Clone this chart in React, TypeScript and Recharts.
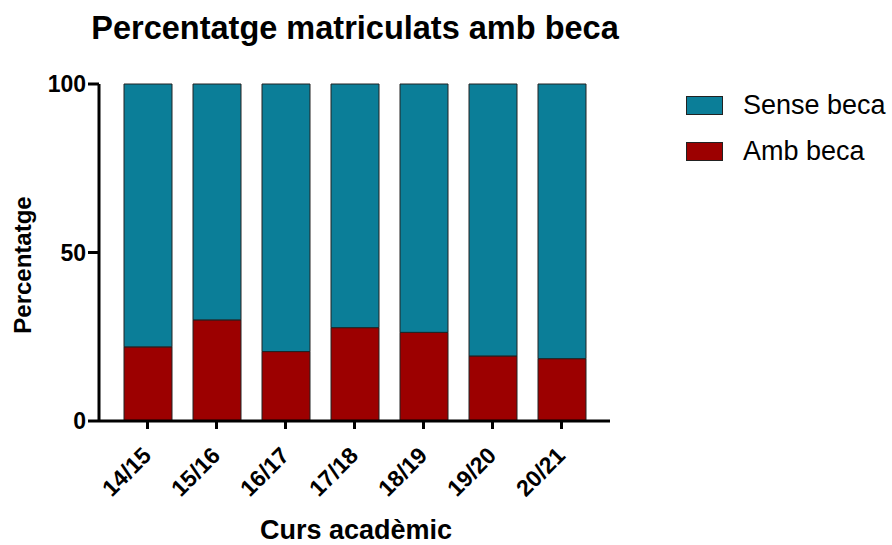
import React from 'react';
import { BarChart, Bar, XAxis, YAxis, Legend, Label } from 'recharts';

const cursos = ['14/15', '15/16', '16/17', '17/18', '18/19', '19/20', '20/21'];
const ambBeca = [22.0, 30.0, 20.6, 27.7, 26.3, 19.3, 18.5];
const senseBeca = [78.0, 70.0, 79.4, 72.3, 73.7, 80.7, 81.5];
const yTicks = [0, 50, 100];

const data = cursos.map((c, i) => ({ curs: c, amb: ambBeca[i], sense: senseBeca[i] }));

const TEAL = '#0B7E98';
const RED = '#9C0000';
const FONT = '"Liberation Sans", Arial, sans-serif';

const XTick = (props: any) => {
  const { x, y, payload } = props;
  return (
    <g transform={`translate(${x + 5},${y + 26})`}>
      <text
        x={0}
        y={0}
        textAnchor="end"
        transform="rotate(-45)"
        fontFamily={FONT}
        fontWeight="bold"
        fontSize={23}
        fill="#000"
      >
        {payload.value}
      </text>
    </g>
  );
};

const LegendContent = () => {
  const items = [
    { label: 'Sense beca', color: TEAL },
    { label: 'Amb beca', color: RED },
  ];
  return (
    <div style={{ fontFamily: FONT }}>
      {items.map((it) => (
        <div key={it.label} style={{ display: 'flex', alignItems: 'center', height: 46 }}>
          <div
            style={{
              width: 35,
              height: 17,
              background: it.color,
              border: '1px solid #222',
              marginRight: 20,
            }}
          />
          <span style={{ fontSize: 27, color: '#000' }}>{it.label}</span>
        </div>
      ))}
    </div>
  );
};

export default function App() {
  return (
    <div style={{ position: 'absolute', left: 0, top: 0, width: 892, height: 545, background: '#fff' }}>
      <div
        style={{
          position: 'absolute',
          left: 0,
          top: 12,
          width: 710,
          textAlign: 'center',
          fontFamily: FONT,
          fontWeight: 'bold',
          fontSize: 32.5,
          lineHeight: '32px',
          color: '#000',
        }}
      >
        Percentatge matriculats amb beca
      </div>
      <BarChart
        width={892}
        height={545}
        data={data}
        margin={{ top: 84, right: 282, bottom: 64, left: 39 }}
        barSize={48}
      >
        <XAxis
          dataKey="curs"
          height={60}
          padding={{ left: 14, right: 14 }}
          axisLine={{ stroke: '#000', strokeWidth: 3 }}
          tickLine={{ stroke: '#000', strokeWidth: 3 }}
          tickSize={8}
          tick={<XTick />}
          interval={0}
        >
          <Label
            content={() => (
              <text
                x={356}
                y={539}
                textAnchor="middle"
                fontFamily={FONT}
                fontWeight="bold"
                fontSize={27}
                fill="#000"
              >
                Curs acadèmic
              </text>
            )}
          />
        </XAxis>
        <YAxis
          width={60}
          domain={[0, 100]}
          ticks={yTicks}
          axisLine={{ stroke: '#000', strokeWidth: 3 }}
          tickLine={{ stroke: '#000', strokeWidth: 3 }}
          tickSize={11}
          tick={{ fontFamily: FONT, fontWeight: 'bold', fontSize: 23, fill: '#000' }}
        >
          <Label
            content={() => (
              <text
                x={31}
                y={265}
                transform="rotate(-90 31 265)"
                textAnchor="middle"
                fontFamily={FONT}
                fontWeight="bold"
                fontSize={24}
                fill="#000"
              >
                Percentatge
              </text>
            )}
          />
        </YAxis>
        <Legend
          layout="vertical"
          align="center"
          verticalAlign="middle"
          content={<LegendContent />}
          wrapperStyle={{ left: 686, top: 82, width: 210 }}
        />
        <Bar dataKey="amb" name="Amb beca" stackId="a" fill={RED} stroke="#222" strokeWidth={1} isAnimationActive={false} />
        <Bar dataKey="sense" name="Sense beca" stackId="a" fill={TEAL} stroke="#222" strokeWidth={1} isAnimationActive={false} />
      </BarChart>
    </div>
  );
}
